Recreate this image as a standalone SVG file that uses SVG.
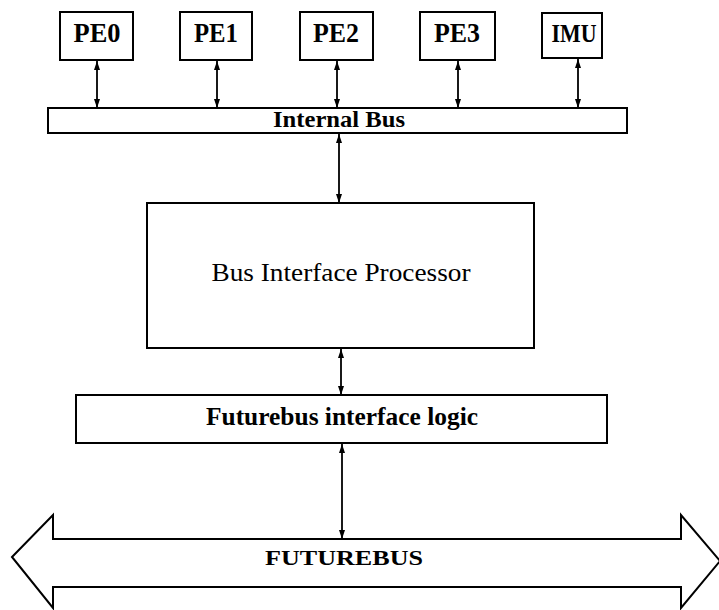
<svg xmlns="http://www.w3.org/2000/svg" width="719" height="610" viewBox="0 0 719 610">
<style>
.box{fill:#fff;stroke:#000;stroke-width:2}
.lbl{font-family:"Liberation Serif","Times New Roman",serif;font-weight:bold;text-anchor:middle;fill:#000}
.reg{font-family:"Liberation Serif","Times New Roman",serif;text-anchor:middle;fill:#000}
.conn{stroke:#000;stroke-width:1.8;fill:none;marker-start:url(#ah);marker-end:url(#ah)}
</style>
<defs>
<marker id="ah" markerUnits="userSpaceOnUse" markerWidth="10" markerHeight="8" refX="9" refY="4" orient="auto-start-reverse">
<path d="M0,1 L9,4 L0,7 z" fill="#000"/>
</marker>
</defs>
<rect width="719" height="610" fill="#fff"/>
<g id="connectors">
<path class="conn" d="M97,61 V108"/>
<path class="conn" d="M217,61 V108"/>
<path class="conn" d="M337,61 V108"/>
<path class="conn" d="M458,61 V108"/>
<path class="conn" d="M578,59 V108"/>
<path class="conn" d="M339,134 V203"/>
<path class="conn" d="M341,349 V395"/>
<path class="conn" d="M342,444 V539"/>
</g>
<g id="PE0"><rect class="box" x="60" y="12" width="73" height="48"/><text class="lbl" x="97" y="42" font-size="27" textLength="47" lengthAdjust="spacingAndGlyphs">PE0</text></g>
<g id="PE1"><rect class="box" x="180" y="12" width="72" height="48"/><text class="lbl" x="216" y="42" font-size="27" textLength="44" lengthAdjust="spacingAndGlyphs">PE1</text></g>
<g id="PE2"><rect class="box" x="300" y="12" width="73" height="48"/><text class="lbl" x="336" y="42" font-size="27" textLength="46" lengthAdjust="spacingAndGlyphs">PE2</text></g>
<g id="PE3"><rect class="box" x="420" y="12" width="75" height="48"/><text class="lbl" x="457" y="42" font-size="27" textLength="46" lengthAdjust="spacingAndGlyphs">PE3</text></g>
<g id="IMU"><rect class="box" x="542" y="13" width="60" height="45"/><text class="lbl" x="574" y="42" font-size="26" textLength="45" lengthAdjust="spacingAndGlyphs">IMU</text></g>
<g id="InternalBus"><rect class="box" x="48" y="108" width="579" height="25"/><text class="lbl" x="339" y="127" font-size="24" textLength="132" lengthAdjust="spacingAndGlyphs">Internal Bus</text></g>
<g id="BIP"><rect class="box" x="147" y="203" width="387" height="145"/><text class="reg" x="341" y="281" font-size="26" textLength="259" lengthAdjust="spacingAndGlyphs">Bus Interface Processor</text></g>
<g id="FIL"><rect class="box" x="76" y="395" width="531" height="48"/><text class="lbl" x="342" y="425" font-size="25" textLength="272" lengthAdjust="spacingAndGlyphs">Futurebus interface logic</text></g>
<g id="FUTUREBUS"><path class="box" d="M12,557 L53,515 L53,539 L681,539 L681,515 L720,561 L681,608 L681,587 L53,587 L53,608 Z" stroke-linejoin="miter"/><text class="lbl" x="344" y="565" font-size="21" textLength="158" lengthAdjust="spacingAndGlyphs">FUTUREBUS</text></g>
</svg>
